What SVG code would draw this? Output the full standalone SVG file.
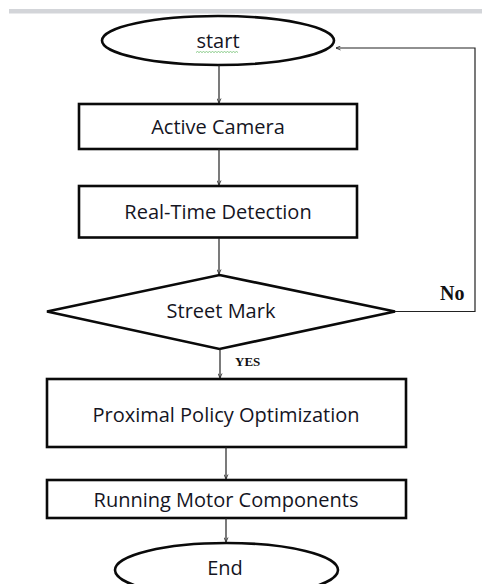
<svg xmlns="http://www.w3.org/2000/svg" width="482" height="584" viewBox="0 0 482 584">
<defs>
<marker id="arr" viewBox="0 0 10 10" refX="10" refY="5" markerWidth="5" markerHeight="5" orient="auto" markerUnits="userSpaceOnUse">
<path d="M1,1 L10,5 L1,9" fill="none" stroke="#222" stroke-width="1.6"/>
</marker>
<style>
.shape{fill:#fff;stroke:#0a0a0a;stroke-width:2.6}
.lbl{font-family:"Open Sans","Noto Sans",sans-serif;fill:#15151f;text-anchor:middle;font-size:20px}
.con{fill:none;stroke:#222;stroke-width:1.2;marker-end:url(#arr)}
.tnr{font-family:"Liberation Serif",serif;font-weight:bold;fill:#111}
</style>
</defs>
<rect x="0" y="0" width="482" height="584" fill="#fff"/>
<rect x="9" y="9" width="473" height="4.5" fill="#d3d5d9"/>
<g id="start">
<ellipse class="shape" cx="218" cy="40.5" rx="116" ry="24.5"/>
<text class="lbl" x="218" y="48">start</text>
<path d="M196,52.5 l1.5,-1 l1.5,1 l1.5,-1 l1.5,1 l1.5,-1 l1.5,1 l1.5,-1 l1.5,1 l1.5,-1 l1.5,1 l1.5,-1 l1.5,1 l1.5,-1 l1.5,1 l1.5,-1 l1.5,1 l1.5,-1 l1.5,1 l1.5,-1 l1.5,1 l1.5,-1 l1.5,1 l1.5,-1 l1.5,1 l1.5,-1 l1.5,1 l1.5,-1 l1.5,1" fill="none" stroke="#7cc47c" stroke-width="0.9"/>
</g>
<g id="active">
<rect class="shape" x="79" y="104" width="278" height="45"/>
<text class="lbl" x="218" y="134">Active Camera</text>
</g>
<g id="detect">
<rect class="shape" x="79" y="186" width="278" height="51.5"/>
<text class="lbl" x="218" y="219">Real-Time Detection</text>
</g>
<g id="street">
<polygon class="shape" points="219.5,275 395,311.5 219.5,349 47,311.5"/>
<text class="lbl" x="221" y="318">Street Mark</text>
</g>
<g id="ppo">
<rect class="shape" x="47" y="379" width="359" height="68"/>
<text class="lbl" x="226" y="422">Proximal Policy Optimization</text>
</g>
<g id="motor">
<rect class="shape" x="47" y="480" width="359" height="38"/>
<text class="lbl" x="226" y="507">Running Motor Components</text>
</g>
<g id="end">
<ellipse class="shape" cx="226.5" cy="570" rx="111.5" ry="27"/>
<text class="lbl" x="225" y="575">End</text>
</g>
<g id="connectors">
<line class="con" x1="219" y1="65" x2="219" y2="103"/>
<line class="con" x1="219" y1="149" x2="219" y2="185"/>
<line class="con" x1="219" y1="238" x2="219" y2="274"/>
<line class="con" x1="220" y1="349" x2="220" y2="378"/>
<line class="con" x1="226" y1="447" x2="226" y2="479"/>
<line class="con" x1="226" y1="518" x2="226" y2="542"/>
<polyline class="con" points="395,311.5 475,311.5 475,48 336,48"/>
<text class="tnr" x="440" y="300" font-size="20">No</text>
<text class="tnr" x="235" y="366" font-size="13">YES</text>
</g>
</svg>
